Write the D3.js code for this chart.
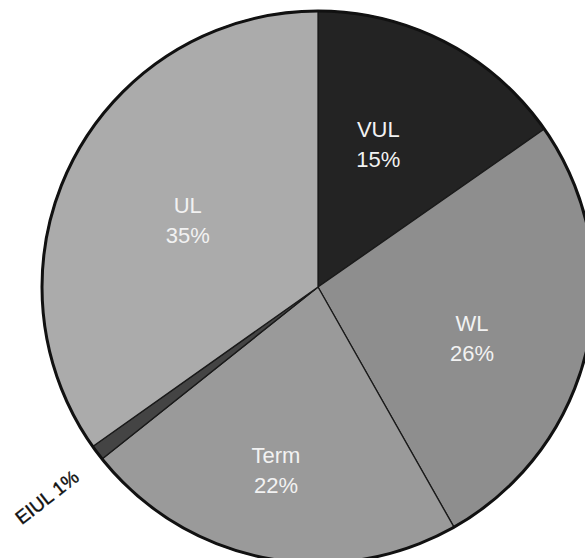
<!DOCTYPE html>
<html>
<head>
<meta charset="utf-8">
<script src="https://cdn.jsdelivr.net/npm/d3@7"></script>
<style>
  html, body { margin: 0; padding: 0; background: #ffffff; }
  svg { display: block; }
</style>
</head>
<body>
<svg id="chart" width="585" height="558"></svg>
<script>
// ---- data ----
const categories = ["VUL", "WL", "Term", "EIUL", "UL"];
const values = [15.3, 26.5, 22.5, 0.9, 34.8];
const percentLabels = ["15%", "26%", "22%", "1%", "35%"];

// ---- style / layout (kept separate from data) ----
const colors = ["#232323", "#8e8e8e", "#9a9a9a", "#444444", "#ababab"];
const labelLayout = {
  VUL:  { r: 148, da: -3.5 },
  WL:   { r: 165, da: 8.3 },
  Term: { r: 196, da: 1.4 },
  UL:   { r: 143, da: -3.0 }
};
const cx = 318, cy = 287, R = 276;

const svg = d3.select("#chart");
const g = svg.append("g").attr("transform", `translate(${cx},${cy})`);

const rows = categories.map((c, i) => ({ cat: c, value: values[i], pct: percentLabels[i], color: colors[i] }));

const pie = d3.pie().sort(null).value(d => d.value).startAngle(0).endAngle(2 * Math.PI);
const arcs = pie(rows);
const arc = d3.arc().innerRadius(0).outerRadius(R);

g.selectAll("path.slice")
  .data(arcs)
  .enter().append("path")
  .attr("class", "slice")
  .attr("d", arc)
  .attr("fill", d => d.data.color)
  .attr("stroke", "#1a1a1a")
  .attr("stroke-width", 1.3)
  .attr("stroke-linejoin", "round");

// outer rim
g.append("path")
  .attr("d", d3.arc().innerRadius(R).outerRadius(R).startAngle(0).endAngle(2 * Math.PI)())
  .attr("fill", "none")
  .attr("stroke", "#111")
  .attr("stroke-width", 3);

// inner labels
arcs.filter(d => labelLayout[d.data.cat]).forEach(d => {
  const L = labelLayout[d.data.cat];
  const a = (d.startAngle + d.endAngle) / 2 + L.da * Math.PI / 180;
  const x = L.r * Math.sin(a), y = -L.r * Math.cos(a);
  const t = g.append("text")
    .attr("x", x).attr("y", y)
    .attr("text-anchor", "middle")
    .attr("fill", "#f2f2f2")
    .attr("font-family", "'Liberation Sans', Arial, sans-serif")
    .attr("font-size", 22);
  t.append("tspan").attr("x", x).attr("dy", "-0.68em").text(d.data.cat);
  t.append("tspan").attr("x", x).attr("dy", "1.35em").text(d.data.pct);
});

// outside label for the small slice
const small = arcs.find(d => d.data.cat === "EIUL");
const sa = (small.startAngle + small.endAngle) / 2 - 2 * Math.PI / 180;
const lr = R + 67;
const lx = lr * Math.sin(sa), ly = -lr * Math.cos(sa);
g.append("text")
  .attr("transform", `translate(${lx},${ly}) rotate(-38)`)
  .attr("text-anchor", "middle")
  .attr("fill", "#111")
  .attr("font-family", "'Liberation Sans', Arial, sans-serif")
  .attr("font-size", 19)
  .attr("stroke", "#111")
  .attr("stroke-width", 0.4)
  .text(`${small.data.cat} ${small.data.pct}`);
</script>
</body>
</html>
